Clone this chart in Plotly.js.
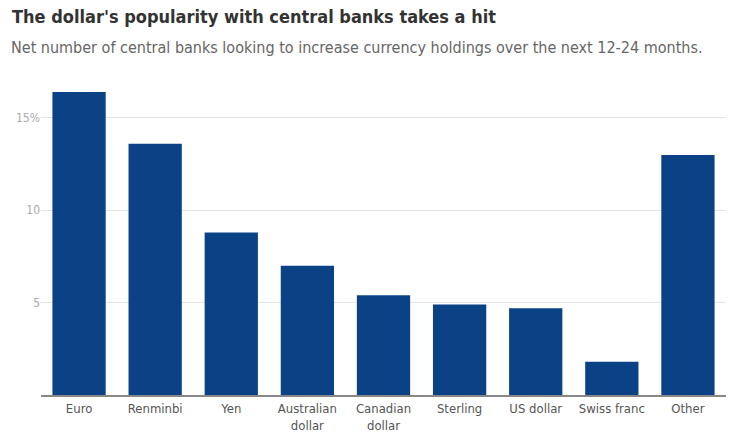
<!DOCTYPE html>
<html><head><meta charset="utf-8">
<script src="https://cdn.plot.ly/plotly-3.0.1.min.js"></script>
<style>body{margin:0;background:#fff}#c{width:733px;height:441px}</style>
</head><body><div id="c"></div>
<script>
const categories = ["Euro","Renminbi","Yen","Australian<br>dollar","Canadian<br>dollar","Sterling","US dollar","Swiss franc","Other"];
const values = [16.4, 13.6, 8.8, 7.0, 5.4, 4.9, 4.7, 1.8, 13.0];
const yTickVals = [5, 10, 15];
const yTickText = ["5", "10", "15%"];
const titleText = "<b>The dollar's popularity with central banks takes a hit</b>";
const subtitleText = "Net number of central banks looking to increase currency holdings over the next 12-24 months.";

const font = "DejaVu Sans Condensed, Liberation Sans Narrow, Roboto, sans-serif";
const W = 733, H = 441, mL = 41, mR = 7, mT = 81, mB = 46;
const pw = W - mL - mR, ph = H - mT - mB;

Plotly.newPlot("c", [{
  type: "bar",
  x: categories,
  y: values,
  marker: {color: "#0b4286"},
  hoverinfo: "x+y"
}], {
  width: W, height: H,
  margin: {l: mL, r: mR, t: mT, b: mB},
  paper_bgcolor: "#fff", plot_bgcolor: "#fff",
  bargap: 0.3,
  font: {family: font, color: "#555"},
  title: {
    text: titleText,
    x: 12/W, xanchor: "left", xref: "container",
    y: 1 - 10/H, yanchor: "top", yref: "container",
    font: {family: font, size: 18, color: "#333"}
  },
  annotations: [{
    text: subtitleText, showarrow: false,
    xref: "paper", yref: "paper",
    x: (9 - mL)/pw, xanchor: "left",
    y: 1 + (mT - 47)/ph, yanchor: "middle",
    font: {family: font, size: 16, color: "#666"}
  }],
  xaxis: {
    tickfont: {size: 13, color: "#555"},
    showline: true, linecolor: "#888", linewidth: 2,
    ticks: "", fixedrange: true
  },
  yaxis: {
    range: [0, 17],
    tickvals: yTickVals, ticktext: yTickText,
    tickfont: {size: 12, color: "#aaa"},
    gridcolor: "#e3e3e3", gridwidth: 1,
    zeroline: false, showline: false,
    ticks: "", ticklen: 0, fixedrange: true
  },
  showlegend: false
}, {displayModeBar: false, staticPlot: true});
</script></body></html>
